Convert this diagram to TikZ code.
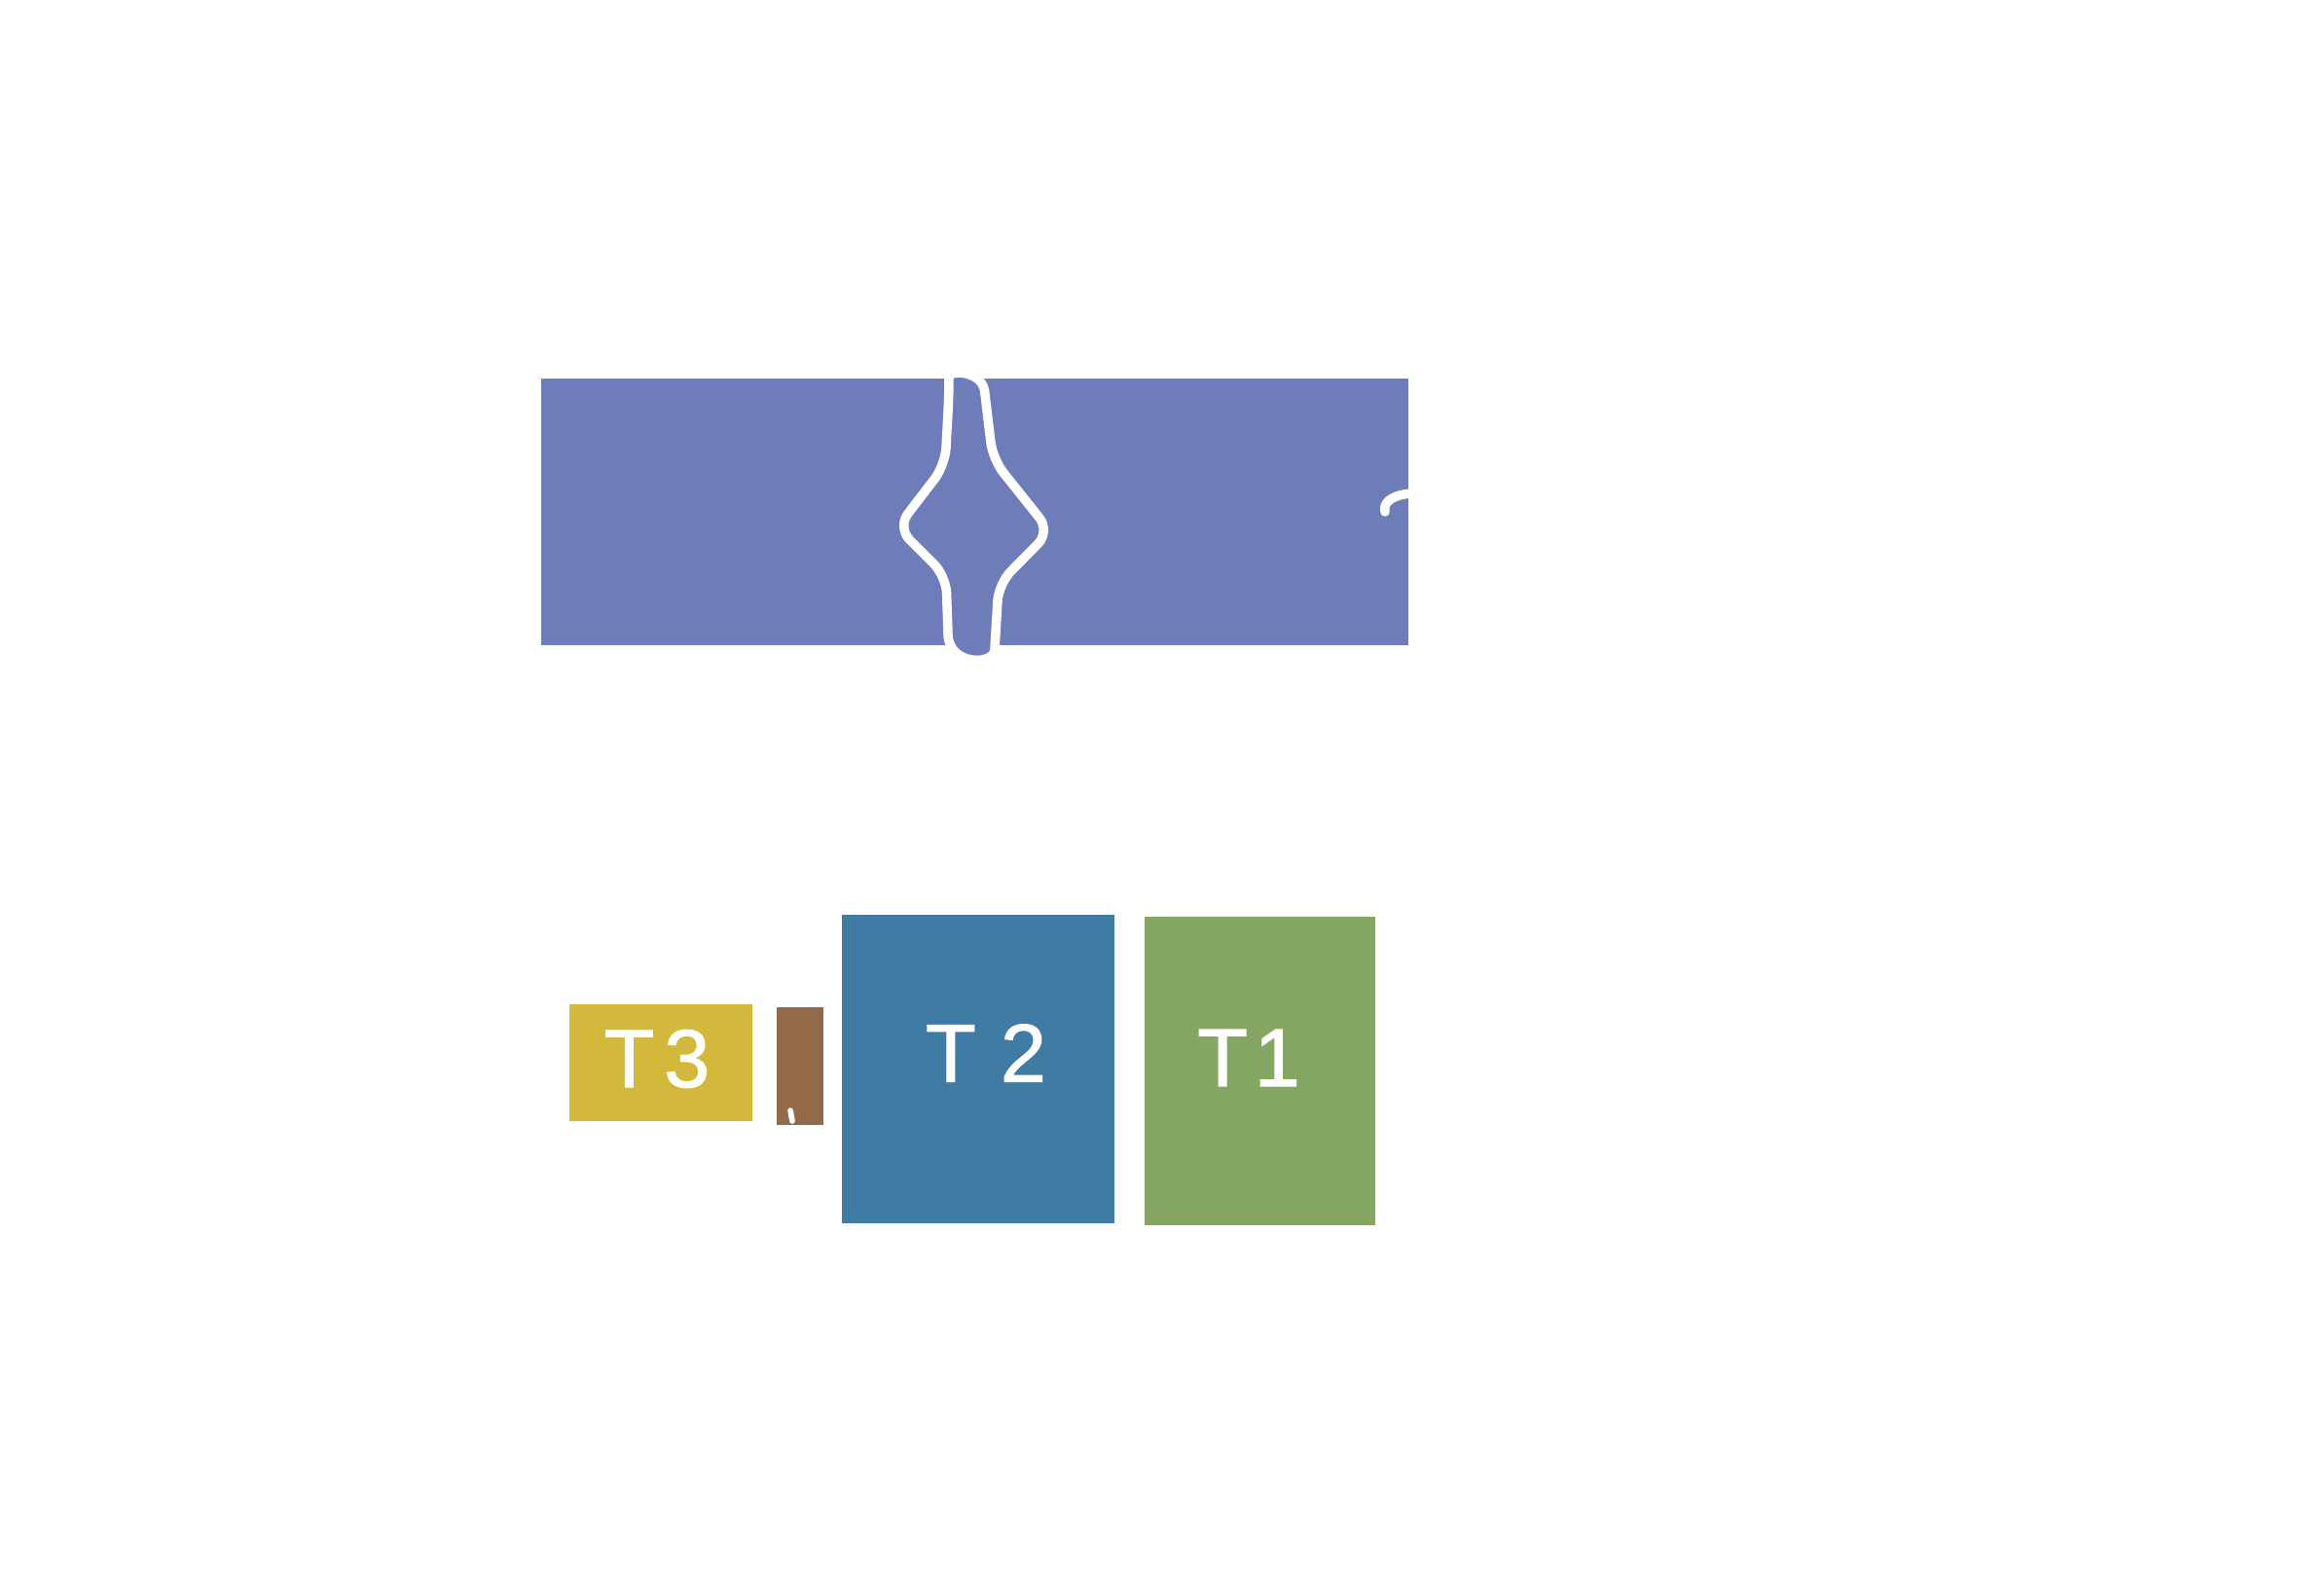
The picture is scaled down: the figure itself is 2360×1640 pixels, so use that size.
\documentclass[tikz,border=0pt]{standalone}
\usepackage{fontspec}
\setmainfont{Liberation Sans}
\newfontfamily\lblfont{Liberation Sans}[FakeBold=1.3]
\definecolor{bandc}{HTML}{6E7CBA}
\definecolor{t3c}{HTML}{D3B93B}
\definecolor{brc}{HTML}{936A49}
\definecolor{t2c}{HTML}{3F7BA3}
\definecolor{t1c}{HTML}{85A663}
\begin{document}
\begin{tikzpicture}[x=0.01cm,y=-0.01cm,
  block/.style={anchor=north west,inner sep=0pt,outer sep=0pt,draw=none},
  lbl/.style={text=white,font=\lblfont\fontsize{24}{24}\selectfont,inner sep=0pt},
  wline/.style={draw=white,line width=2.7pt,line cap=round,line join=round}]
\useasboundingbox (0,0) rectangle (2360,1640);
% band
\node[block,fill=bandc,minimum width=8.90cm,minimum height=2.74cm] (band) at (556,389) {};
\draw[wline,fill=bandc,rounded corners=5pt]
  (1012,405) -- (1020,472) -- (1079,546) -- (1026,600) -- (1023,650)
  [sharp corners] .. controls (1021,684) and (975,684) .. (974,652)
  [rounded corners=5pt] -- (972,592) -- (922,542) -- (971,478) -- (975,405)
  [sharp corners] .. controls (975,380) and (1011,380) .. (1012,405) -- cycle;
\coordinate (hookA) at (1423,526);
\coordinate (hookB) at (1450,507);
\draw[wline] (hookA) .. controls (1420,514) and (1435,508) .. (hookB);
% blocks
\node[block,fill=t3c,minimum width=1.88cm,minimum height=1.20cm] (t3) at (585,1032) {};
\node[block,fill=brc,minimum width=0.48cm,minimum height=1.21cm] (br) at (798,1035) {};
\node[block,fill=t2c,minimum width=2.80cm,minimum height=3.17cm] (t2) at (865,940) {};
\node[block,fill=t1c,minimum width=2.37cm,minimum height=3.17cm] (t1) at (1176,942) {};
\node[lbl] (l3) at (675,1088) {T\kern0.12em 3};
\node[lbl] (l2) at (1013,1082) {T\kern0.3em 2};
\node[lbl] (l1) at (1283,1087) {T\kern0.08em 1};
\coordinate (tickA) at (812,1141);
\coordinate (tickB) at (814,1152);
\draw[draw=white,line width=1.6pt,line cap=round] (tickA) -- (tickB);
\end{tikzpicture}
\end{document}
